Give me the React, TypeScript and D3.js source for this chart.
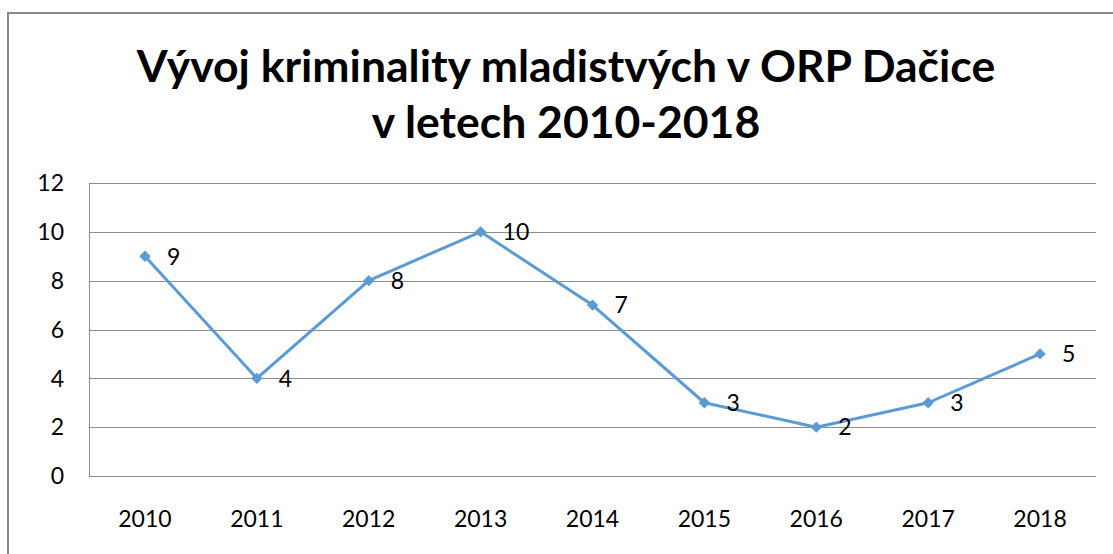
import React, { useRef, useEffect } from "react";
import * as d3 from "d3";

const years = ["2010", "2011", "2012", "2013", "2014", "2015", "2016", "2017", "2018"];
const counts = [9, 4, 8, 10, 7, 3, 2, 3, 5];
const yTicks = [0, 2, 4, 6, 8, 10, 12];
const titleLines = ["Vývoj kriminality mladistvých v ORP Dačice", "v letech 2010-2018"];

const App = () => {
  const svgRef = useRef<SVGSVGElement>(null);

  useEffect(() => {
    const width = 1113;
    const height = 554;
    const margin = { top: 183, right: 17, bottom: 78, left: 89 };
    const font = "Lato, 'Open Sans', sans-serif";

    const svg = d3.select(svgRef.current).attr("width", width).attr("height", height);
    svg.selectAll("*").remove();

    svg
      .append("rect")
      .attr("x", 8)
      .attr("y", 13)
      .attr("width", width + 20)
      .attr("height", height + 20)
      .attr("fill", "#fff")
      .attr("stroke", "#888")
      .attr("stroke-width", 2);

    svg
      .append("g")
      .selectAll("text")
      .data(titleLines)
      .enter()
      .append("text")
      .attr("x", 566)
      .attr("y", (_, i) => 82 + i * 56)
      .attr("text-anchor", "middle")
      .style("font-family", font)
      .style("font-weight", 700)
      .style("font-size", "44.5px")
      .attr("fill", "#000")
      .text((d) => d);

    const x = d3
      .scaleBand()
      .domain(years)
      .range([margin.left, width - margin.right]);

    const y = d3
      .scaleLinear()
      .domain([0, 12])
      .range([height - margin.bottom, margin.top]);

    // gridlines
    svg
      .append("g")
      .selectAll("line")
      .data(yTicks)
      .enter()
      .append("line")
      .attr("x1", margin.left)
      .attr("x2", width - margin.right)
      .attr("y1", (d) => Math.round(y(d)) + 0.5)
      .attr("y2", (d) => Math.round(y(d)) + 0.5)
      .attr("stroke", "#8c8c8c")
      .attr("stroke-width", 1);

    svg
      .append("line")
      .attr("x1", margin.left + 0.5)
      .attr("x2", margin.left + 0.5)
      .attr("y1", y(12))
      .attr("y2", y(0))
      .attr("stroke", "#8c8c8c");

    // y labels
    svg
      .append("g")
      .selectAll("text")
      .data(yTicks)
      .enter()
      .append("text")
      .attr("x", 64)
      .attr("y", (d) => y(d))
      .attr("dy", "0.36em")
      .attr("text-anchor", "end")
      .style("font-family", font)
      .style("font-size", "23px")
      .text((d) => d);

    // x labels
    svg
      .append("g")
      .selectAll("text")
      .data(years)
      .enter()
      .append("text")
      .attr("x", (d) => x(d)! + x.bandwidth() / 2)
      .attr("y", 527)
      .attr("text-anchor", "middle")
      .style("font-family", font)
      .style("font-size", "23px")
      .text((d) => d);

    const cx = (i: number) => x(years[i])! + x.bandwidth() / 2;

    const line = d3
      .line<number>()
      .x((_, i) => cx(i))
      .y((d) => y(d));

    svg
      .append("path")
      .datum(counts)
      .attr("d", line)
      .attr("fill", "none")
      .attr("stroke", "#5b9bd5")
      .attr("stroke-width", 3)
      .attr("stroke-linejoin", "round");

    const diamond = d3.symbol().type(d3.symbolSquare).size(64);
    svg
      .append("g")
      .selectAll("path")
      .data(counts)
      .enter()
      .append("path")
      .attr("d", diamond)
      .attr("transform", (d, i) => `translate(${cx(i)},${y(d)}) rotate(45)`)
      .attr("fill", "#5b9bd5");

    svg
      .append("g")
      .selectAll("text")
      .data(counts)
      .enter()
      .append("text")
      .attr("x", (_, i) => cx(i) + 22)
      .attr("y", (d) => y(d))
      .attr("dy", "0.36em")
      .style("font-family", font)
      .style("font-size", "23px")
      .text((d) => d);
  }, []);

  return <svg ref={svgRef} style={{ position: "absolute", left: 0, top: 0 }}></svg>;
};

export default App;
